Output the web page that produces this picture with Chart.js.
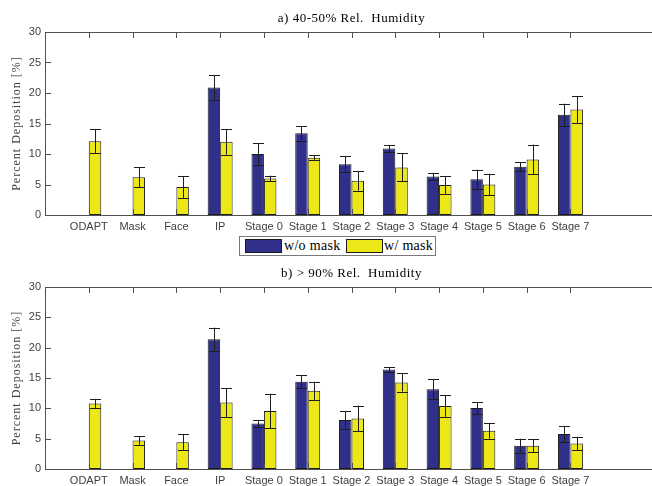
<!DOCTYPE html>
<html>
<head>
<meta charset="utf-8">
<script src="https://cdn.jsdelivr.net/npm/chart.js@4"></script>
<style>
    html, body { margin: 0; padding: 0; background: #fff; overflow: hidden; width: 652px; height: 486px; }
    canvas { position: absolute; left: 0; }
    #chartA { top: 0; }
    #chartB { top: 256px; }
    #legend {
        position: absolute; left: 239px; top: 236px; width: 195px; height: 18px;
        border: 1px solid #7a7a7a; background: #fff;
        font-family: "Liberation Serif", serif; font-size: 14px; letter-spacing: 0.3px; color: #000;
    }
    #legend .sw { position: absolute; top: 2px; width: 35px; height: 12px; border: 1px solid #1a1a1a; }
    #legend .tx { position: absolute; top: 0; line-height: 18px; }
</style>
</head>
<body>
<canvas id="chartA" width="662" height="236"></canvas>
<div id="legend">
    <div class="sw" style="left:5px;background:#30308a"></div><div class="tx" style="left:44px">w/o mask</div>
    <div class="sw" style="left:106px;background:#ece818"></div><div class="tx" style="left:144px">w/ mask</div>
</div>
<canvas id="chartB" width="662" height="230"></canvas>
<script>
const categories = ["ODAPT", "Mask", "Face", "IP", "Stage 0", "Stage 1", "Stage 2", "Stage 3", "Stage 4", "Stage 5", "Stage 6", "Stage 7"];
const yTicks = [0, 5, 10, 15, 20, 25, 30];

// a) 40-50% Rel. Humidity
const woMaskA = [null, null, null, 20.9, 10.0, 13.4, 8.3, 10.9, 6.3, 5.85, 7.9, 16.45];
const woMaskErrA = [0, 0, 0, 2.0, 1.75, 1.2, 1.3, 0.55, 0.6, 1.6, 0.75, 1.8];
const wMaskA = [12.1, 6.2, 4.6, 12.0, 6.0, 9.4, 5.6, 7.8, 4.9, 5.0, 9.1, 17.3];
const wMaskErrA = [2.0, 1.6, 1.8, 2.1, 0.45, 0.45, 1.6, 2.3, 1.5, 1.75, 2.45, 2.2];

// b) > 90% Rel. Humidity
const woMaskB = [0, 0, 0, 21.4, 7.5, 14.4, 8.06, 16.4, 13.16, 10.04, 3.84, 5.76];
const woMaskErrB = [0, 0, 0, 1.9, 0.6, 1.1, 1.5, 0.4, 1.6, 1.0, 1.15, 1.37];
const wMaskB = [10.8, 4.7, 4.39, 10.97, 9.54, 12.9, 8.34, 14.26, 10.4, 6.3, 3.84, 4.2];
const wMaskErrB = [0.75, 0.7, 1.3, 2.4, 2.85, 1.5, 2.1, 1.5, 1.8, 1.3, 1.05, 1.1];

const BLUE = "#30308a";
const YELLOW = "#ece818";
const AXIS = "#505050";

// x axis runs 0..14 like the matlab plot, categories sit on 1..12
function pad(arr) {
    return [null].concat(arr, [null, null]);
}

const matlabAxes = {
    id: "matlabAxes",
    afterDatasetsDraw(chart) {
        const ctx = chart.ctx;
        const y = chart.scales.y;
        ctx.save();
        ctx.strokeStyle = "#1e1e1e";
        ctx.lineWidth = 1;
        chart.data.datasets.forEach((ds, i) => {
            const meta = chart.getDatasetMeta(i);
            meta.data.forEach((bar, j) => {
                const v = ds.data[j];
                const e = ds.errors[j];
                if (v === null || !e) return;
                const x = Math.round(bar.x) + 0.5;
                const yt = y.getPixelForValue(v + e);
                const yb = y.getPixelForValue(v - e);
                ctx.beginPath();
                ctx.moveTo(x, yt);
                ctx.lineTo(x, yb);
                ctx.moveTo(x - 5.5, Math.round(yt) + 0.5);
                ctx.lineTo(x + 5.5, Math.round(yt) + 0.5);
                ctx.moveTo(x - 5.5, Math.round(yb) + 0.5);
                ctx.lineTo(x + 5.5, Math.round(yb) + 0.5);
                ctx.stroke();
            });
        });
        ctx.restore();
    },
    afterDraw(chart, args, opts) {
        const ctx = chart.ctx;
        const a = chart.chartArea;
        const xs = chart.scales.x;
        const ys = chart.scales.y;
        const tl = 6;
        ctx.save();
        ctx.strokeStyle = AXIS;
        ctx.lineWidth = 1;
        ctx.strokeRect(Math.round(a.left) + 0.5, Math.round(a.top) + 0.5, Math.round(a.right - a.left), Math.round(a.bottom - a.top));
        ctx.beginPath();
        categories.forEach((c, i) => {
            const x = Math.round(xs.getPixelForValue(i + 1)) + 0.5;
            ctx.moveTo(x, a.top);
            ctx.lineTo(x, a.top + tl);
            ctx.moveTo(x, a.bottom);
            ctx.lineTo(x, a.bottom - tl);
        });
        yTicks.forEach((t) => {
            const yy = Math.round(ys.getPixelForValue(t)) + 0.5;
            ctx.moveTo(a.left, yy);
            ctx.lineTo(a.left + tl, yy);
            ctx.moveTo(a.right, yy);
            ctx.lineTo(a.right - tl, yy);
        });
        ctx.stroke();

        // tick labels
        ctx.fillStyle = "#404040";
        ctx.font = "11px 'Liberation Sans', Arial, sans-serif";
        ctx.textAlign = "center";
        ctx.textBaseline = "middle";
        categories.forEach((c, i) => {
            ctx.fillText(c, xs.getPixelForValue(i + 1), a.bottom + 12);
        });
        ctx.textAlign = "right";
        yTicks.forEach((t) => {
            ctx.fillText(String(t), a.left - 4, ys.getPixelForValue(t));
        });

        // title
        ctx.fillStyle = "#000";
        ctx.font = "13px 'Liberation Serif', serif";
        ctx.letterSpacing = "0.5px";
        ctx.textAlign = "center";
        ctx.fillText(opts.title, (a.left + a.right) / 2, a.top - 13);

        // y label
        ctx.fillStyle = "#404040";
        ctx.font = "12px 'Liberation Serif', serif";
        ctx.letterSpacing = "1px";
        ctx.translate(17, (a.top + a.bottom) / 2);
        ctx.rotate(-Math.PI / 2);
        ctx.fillText("Percent Deposition [%]", 0, 0);
        ctx.restore();
    }
};

function makeChart(id, title, woData, woErr, wData, wErr, padTop, padBottom) {
    const labels = [""].concat(categories, ["", ""]);
    return new Chart(document.getElementById(id), {
        type: "bar",
        data: {
            labels: labels,
            datasets: [
                {
                    label: "w/o mask",
                    data: pad(woData),
                    errors: pad(woErr),
                    backgroundColor: BLUE,
                    borderColor: "#1a1a1a",
                    borderWidth: 1,
                    borderSkipped: false,
                    categoryPercentage: 0.57,
                    barPercentage: 1.0,
                },
                {
                    label: "w/ mask",
                    data: pad(wData),
                    errors: pad(wErr),
                    backgroundColor: YELLOW,
                    borderColor: "#1a1a1a",
                    borderWidth: 1,
                    borderSkipped: false,
                    categoryPercentage: 0.57,
                    barPercentage: 1.0,
                },
            ],
        },
        options: {
            responsive: false,
            animation: false,
            layout: { padding: { left: 45, right: 4, top: padTop, bottom: padBottom } },
            plugins: {
                legend: { display: false },
                title: { display: false },
                tooltip: { enabled: false },
                matlabAxes: { title: title },
            },
            scales: {
                x: { display: false, offset: false },
                y: { display: false, min: 0, max: 30 },
            },
        },
        plugins: [matlabAxes],
    });
}

makeChart("chartA", "a) 40-50% Rel.  Humidity", woMaskA, woMaskErrA, wMaskA, wMaskErrA, 32, 21);
makeChart("chartB", "b) > 90% Rel.  Humidity", woMaskB, woMaskErrB, wMaskB, wMaskErrB, 31, 17);
</script>
</body>
</html>
